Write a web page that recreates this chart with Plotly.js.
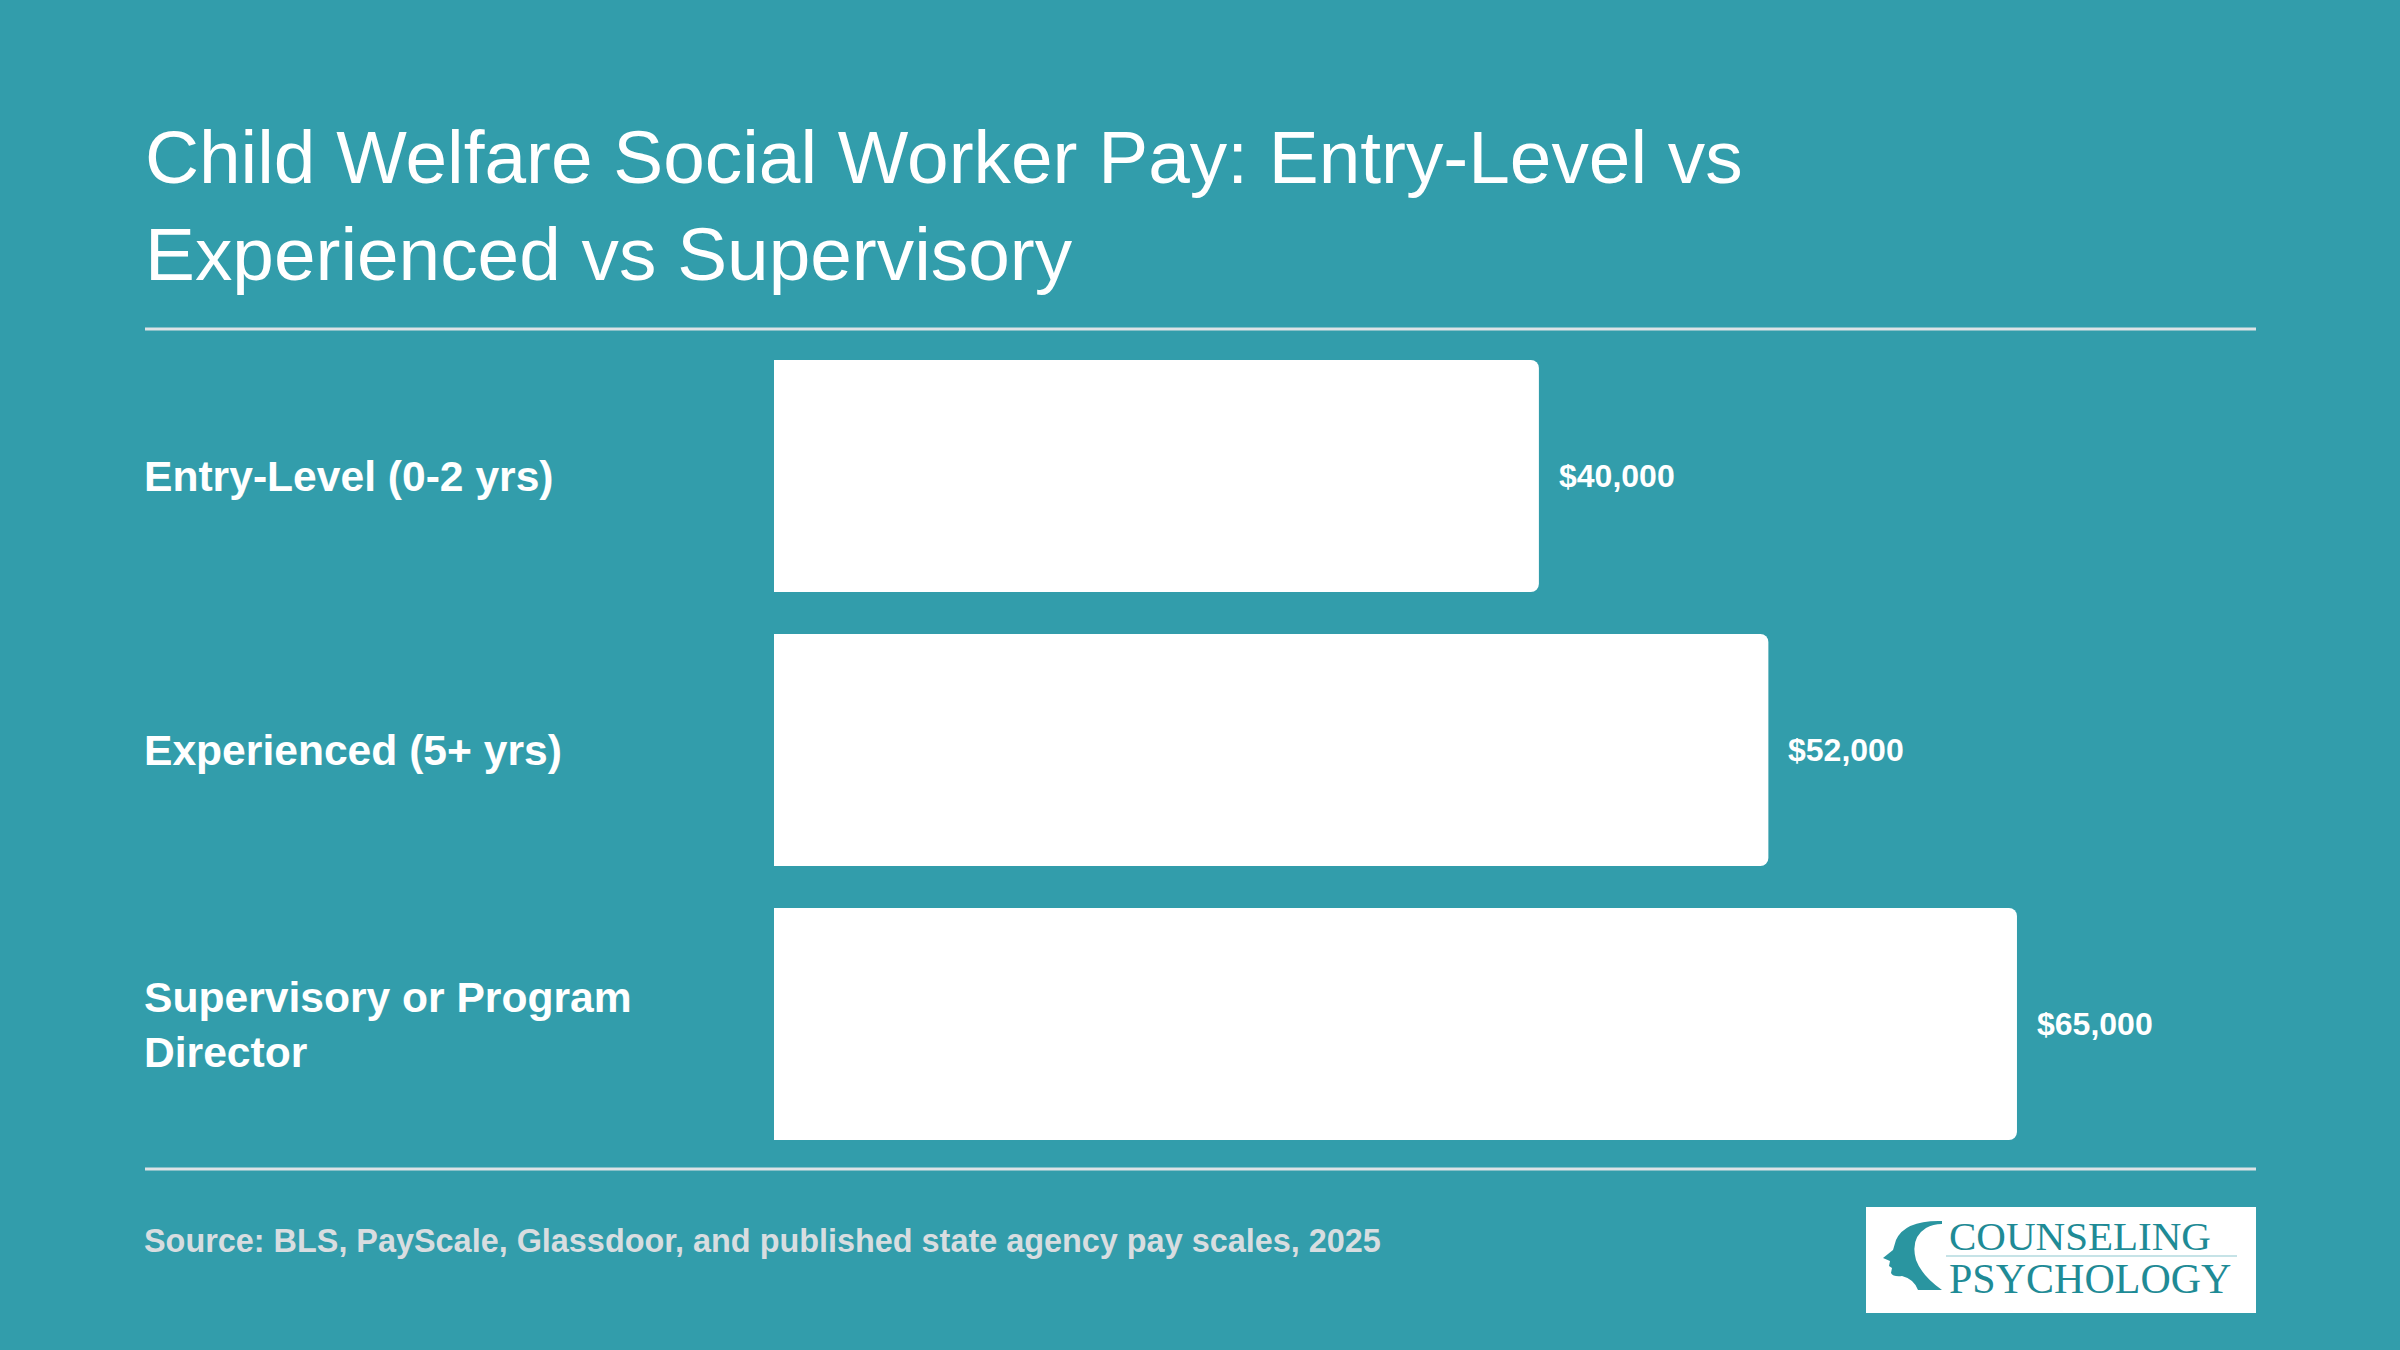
<!DOCTYPE html>
<html>
<head>
<meta charset="utf-8">
<script src="https://cdn.plot.ly/plotly-3.0.1.min.js"></script>
<style>
  html, body { margin: 0; padding: 0; background: #329dab; }
  #chart { width: 2400px; height: 1350px; }
</style>
</head>
<body>
<div id="chart"></div>
<script>
// ---- data ----
const categories = ["Entry-Level (0-2 yrs)", "Experienced (5+ yrs)", "Supervisory or Program Director"];
const salaries = [40000, 52000, 65000];
const valueLabels = ["$40,000", "$52,000", "$65,000"];
const titleText = "Child Welfare Social Worker Pay: Entry-Level vs<br>Experienced vs Supervisory";
const sourceText = "Source: BLS, PayScale, Glassdoor, and published state agency pay scales, 2025";

// ---- layout geometry (pixels) ----
const W = 2400, H = 1350;
const M = { l: 774, r: 144, t: 339, b: 189 };
const plotW = W - M.l - M.r, plotH = H - M.t - M.b;
const px = x => (x - M.l) / plotW;          // pixel x -> paper x
const py = y => (H - M.b - y) / plotH;      // pixel y -> paper y

const BG = "#329dab";
const FONT = "Liberation Sans, Arial, Helvetica, sans-serif";
const SERIF = "Liberation Serif, Times New Roman, serif";
const LOGO = "#1f8b96";

function wrap(s, n) {
  const words = s.split(" ");
  const lines = [];
  let cur = "";
  words.forEach(w => {
    if ((cur + " " + w).trim().length > n && cur) { lines.push(cur); cur = w; }
    else cur = (cur + " " + w).trim();
  });
  if (cur) lines.push(cur);
  return lines.join("<br>");
}

const trace = {
  type: "bar",
  orientation: "h",
  x: salaries,
  y: categories,
  marker: { color: "#ffffff", cornerradius: 8, line: { width: 0 } },
  hoverinfo: "none"
};

const annotations = [];
categories.forEach((c, i) => {
  annotations.push({
    xref: "paper", yref: "y", x: px(142), y: c,
    xanchor: "left", yanchor: "middle", align: "left",
    text: "<b>" + wrap(c, 24) + "</b>", showarrow: false,
    font: { family: FONT, size: 42.6, color: "#ffffff" }
  });
  annotations.push({
    xref: "x", yref: "y", x: salaries[i], y: c,
    xanchor: "left", yanchor: "middle", xshift: 18,
    text: "<b>" + valueLabels[i] + "</b>", showarrow: false,
    font: { family: FONT, size: 32, color: "#ffffff" }
  });
});
annotations.push({
  xref: "paper", yref: "paper", x: px(142), y: py(1241),
  xanchor: "left", yanchor: "middle", align: "left",
  text: "<b>" + sourceText + "</b>", showarrow: false,
  font: { family: FONT, size: 32.4, color: "#d8dde0" }
});
// logo text
annotations.push({
  xref: "paper", yref: "paper", x: px(2080), y: py(1236),
  xanchor: "center", yanchor: "middle",
  text: "COUNSELING", showarrow: false,
  font: { family: SERIF, size: 41, color: LOGO }
});
annotations.push({
  xref: "paper", yref: "paper", x: px(2090), y: py(1279),
  xanchor: "center", yanchor: "middle",
  text: "PSYCHOLOGY", showarrow: false,
  font: { family: SERIF, size: 42, color: LOGO }
});

function pathPx(pts) {
  return pts.map(p => {
    if (p === "Z") return "Z";
    const cmd = p[0];
    const nums = p.slice(1);
    const conv = [];
    for (let k = 0; k < nums.length; k += 2) conv.push(px(nums[k]) + "," + py(nums[k + 1]));
    return cmd + conv.join(" ");
  }).join(" ");
}

const headPath = pathPx([
  ["M", 1942, 1221],
  ["Q", 1905, 1220, 1896, 1240],
  ["L", 1893, 1250],
  ["L", 1883, 1258],
  ["L", 1890, 1261],
  ["L", 1889, 1266],
  ["L", 1892, 1268],
  ["L", 1891, 1273],
  ["Q", 1893, 1277, 1902, 1276],
  ["Q", 1914, 1279, 1918, 1290],
  ["L", 1942, 1290],
  ["Q", 1922, 1276, 1916, 1260],
  ["Q", 1910, 1238, 1926, 1228],
  ["Q", 1933, 1224, 1942, 1224],
  "Z"
]);

const shapes = [
  { type: "line", xref: "paper", yref: "paper", x0: px(145), x1: px(2256), y0: py(329), y1: py(329),
    line: { color: "#dde3e6", width: 3 } },
  { type: "line", xref: "paper", yref: "paper", x0: px(145), x1: px(2256), y0: py(1169), y1: py(1169),
    line: { color: "#dde3e6", width: 3 } },
  { type: "rect", xref: "paper", yref: "paper", x0: px(1866), x1: px(2256), y0: py(1207), y1: py(1313),
    fillcolor: "#ffffff", line: { width: 0 }, layer: "below" },
  { type: "line", xref: "paper", yref: "paper", x0: px(1946), x1: px(2237), y0: py(1256), y1: py(1256),
    line: { color: "#c6e3e7", width: 2 } },
  { type: "path", xref: "paper", yref: "paper", path: headPath,
    fillcolor: "#2a95a0", line: { width: 0 } }
];

const layout = {
  width: W, height: H,
  paper_bgcolor: BG, plot_bgcolor: BG,
  margin: M,
  showlegend: false,
  bargap: 0.153,
  title: {
    text: titleText,
    x: 145 / W, xref: "container", xanchor: "left",
    y: 1 - 183 / H, yref: "container", yanchor: "top",
    pad: { t: 0, b: 0, l: 0, r: 0 },
    font: { family: FONT, size: 74.8, color: "#ffffff" }
  },
  xaxis: { range: [0, 77500], visible: false, fixedrange: true },
  yaxis: {
    type: "category", categoryorder: "array", categoryarray: categories,
    autorange: "reversed", showticklabels: false, showgrid: false,
    zeroline: false, showline: false, ticks: "", fixedrange: true
  },
  annotations: annotations,
  shapes: shapes,
  font: { family: FONT, color: "#ffffff" }
};

Plotly.newPlot("chart", [trace], layout, { displayModeBar: false, staticPlot: true });
</script>
</body>
</html>
